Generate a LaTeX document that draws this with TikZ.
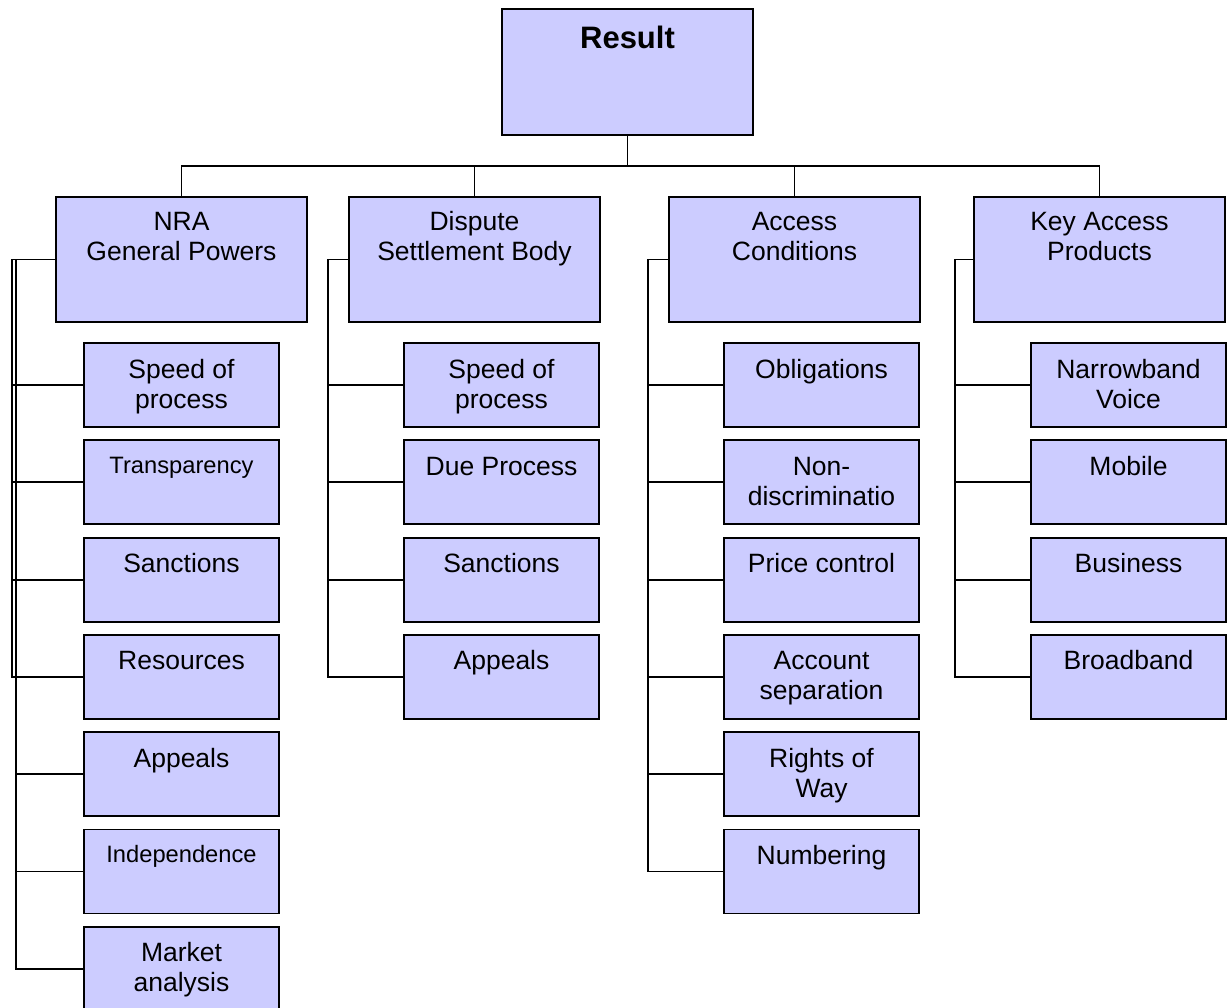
\documentclass[tikz,border=0pt]{standalone}
\usepackage{fontspec}
\setmainfont{Liberation Sans}
\usetikzlibrary{positioning}
\definecolor{orgfill}{RGB}{204,204,255}
\tikzset{
  orgbox/.style={
    draw,
    line width=1.8pt,
    fill=orgfill,
    align=center,
    inner sep=0pt,
    outer sep=0pt,
    anchor=north west,
    font=\fontsize{26.5}{30}\selectfont
  },
  headbox/.style={
    orgbox,
    minimum width=251pt,
    minimum height=125pt,
    text height=64pt,
    text depth=61pt
  },
  itembox/.style={
    orgbox,
    minimum width=195pt,
    minimum height=84pt,
    text height=35pt,
    text depth=49pt
  },
  twolines/.style={text height=65pt, text depth=19pt},
  smalltext/.style={font=\fontsize{23.7}{27}\selectfont, text height=33pt, text depth=51pt},
  orglink/.style={line width=1.8pt}
}

\begin{document}
\begin{tikzpicture}[x=1pt, y=-1pt, node distance=13.3pt]
\useasboundingbox (0,0) rectangle (1229,1008);

\node[orgbox, minimum width=251pt, minimum height=126pt, text height=40pt, text depth=86pt,
  font=\fontsize{31}{34}\selectfont\bfseries] (result) at (502,9) {Result};

\node[headbox] (nra) at (56,197) {NRA\\General Powers};
\node[headbox] (dsb) at (349,197) {Dispute\\Settlement Body};
\node[headbox] (acc) at (669,197) {Access\\Conditions};
\node[headbox] (kap) at (974,197) {Key Access\\Products};

% NRA general powers
\node[itembox, twolines] (nra1) at (84,343) {Speed of\\process};
\node[itembox, smalltext, below=of nra1] (nra2) {Transparency};
\node[itembox, below=of nra2] (nra3) {Sanctions};
\node[itembox, below=of nra3] (nra4) {Resources};
\node[itembox, below=of nra4] (nra5) {Appeals};
\node[itembox, smalltext, below=of nra5] (nra6) {Independence};
\node[itembox, twolines, below=of nra6] (nra7) {Market\\analysis};

% dispute settlement body
\node[itembox, twolines] (dsb1) at (404,343) {Speed of\\process};
\node[itembox, below=of dsb1] (dsb2) {Due Process};
\node[itembox, below=of dsb2] (dsb3) {Sanctions};
\node[itembox, below=of dsb3] (dsb4) {Appeals};

% access conditions
\node[itembox] (acc1) at (724,343) {Obligations};
\node[itembox, twolines, below=of acc1] (acc2) {Non-\\discriminatio};
\node[itembox, below=of acc2] (acc3) {Price control};
\node[itembox, twolines, below=of acc3] (acc4) {Account\\separation};
\node[itembox, twolines, below=of acc4] (acc5) {Rights of\\Way};
\node[itembox, below=of acc5] (acc6) {Numbering};

% key access products
\node[itembox, twolines] (kap1) at (1031,343) {Narrowband\\Voice};
\node[itembox, below=of kap1] (kap2) {Mobile};
\node[itembox, below=of kap2] (kap3) {Business};
\node[itembox, below=of kap3] (kap4) {Broadband};

\path (result.south) ++(0,31) coordinate (hub);
\draw[orglink] (result.south) -- (hub);
\foreach \h in {nra,dsb,acc,kap}
  \draw[orglink] (hub) -| (\h.north);

\foreach \c in {nra1,nra2,nra3,nra4}
  \draw[orglink] (nra.west) -- ++(-44,0) |- (\c.west);
\foreach \c in {nra1,nra2,nra3,nra4,nra5,nra6,nra7}
  \draw[orglink] (nra.west) -- ++(-40,0) |- (\c.west);
\foreach \c in {dsb1,dsb2,dsb3,dsb4}
  \draw[orglink] (dsb.west) -- ++(-21,0) |- (\c.west);
\foreach \c in {acc1,acc2,acc3,acc4,acc5,acc6}
  \draw[orglink] (acc.west) -- ++(-21,0) |- (\c.west);
\foreach \c in {kap1,kap2,kap3,kap4}
  \draw[orglink] (kap.west) -- ++(-19,0) |- (\c.west);
\end{tikzpicture}
\end{document}
